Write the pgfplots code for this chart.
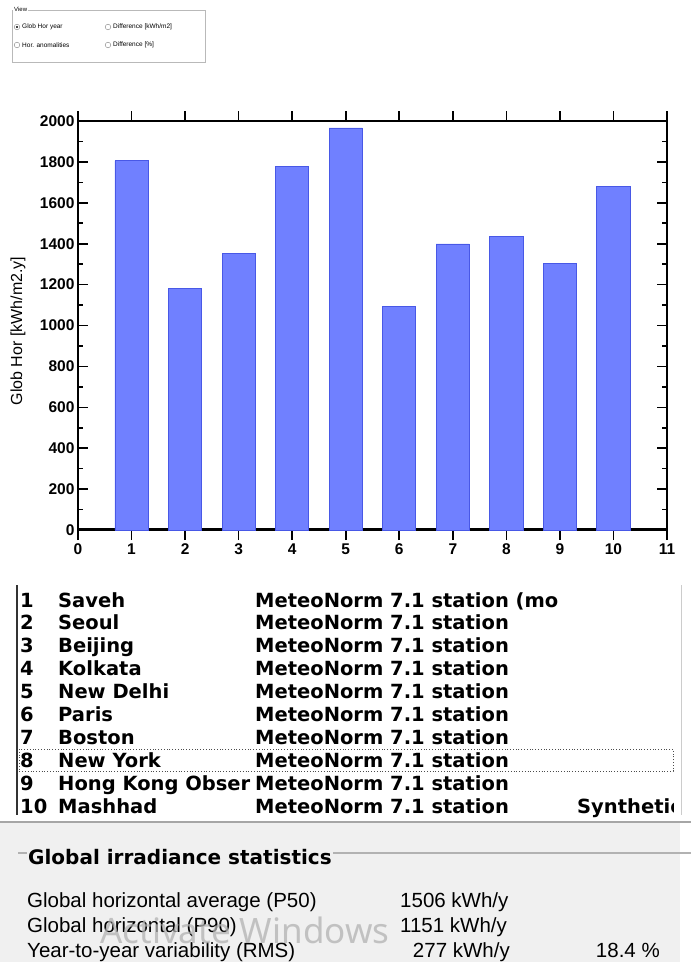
\documentclass[border=0pt]{standalone}
\usepackage{pgfplots}
\pgfplotsset{compat=1.18}
\usepackage{fontspec}
\setmainfont{Liberation Sans}
\newfontfamily\listfont{DejaVu Sans}
\newfontfamily\winfont{Noto Sans}
\definecolor{barfill}{RGB}{112,128,255}
\definecolor{baredge}{RGB}{72,88,230}
\definecolor{panelgray}{RGB}{240,240,240}

\pgfplotstableread{
x y
1 1805
2 1180
3 1354
4 1776
5 1966
6 1093
7 1399
8 1435
9 1305
10 1681
}\glob

\begin{document}
\begin{tikzpicture}
\useasboundingbox (0,0) rectangle (691bp,-962bp);
\fill[white] (0,0) rectangle (691bp,-962bp);
% ---- top view panel
\draw[gray!55, line width=0.8bp] (12bp,-10bp) rectangle (205bp,-62bp);
\node[anchor=west, fill=white, inner sep=1bp, font=\fontsize{6bp}{6bp}\selectfont] at (13bp,-9bp) {View};
\begin{scope}[font=\fontsize{6.5bp}{7bp}\selectfont]
\draw[gray] (17bp,-27bp) circle (2.8bp); \fill (17bp,-27bp) circle (1.2bp);
\node[anchor=west, inner sep=1bp] at (21bp,-27bp) {Glob Hor year};
\draw[gray] (17bp,-45bp) circle (2.8bp);
\node[anchor=west, inner sep=1bp] at (21bp,-45bp) {Hor. anomalities};
\draw[gray] (108bp,-27bp) circle (2.8bp);
\node[anchor=west, inner sep=1bp] at (112bp,-27bp) {Difference [kWh/m2]};
\draw[gray] (108bp,-45bp) circle (2.8bp);
\node[anchor=west, inner sep=1bp] at (112bp,-45bp) {Difference [\%]};
\end{scope}
% ---- chart
\node[rotate=90, font=\fontsize{16bp}{16bp}\selectfont] at (18bp,-331bp) {Glob Hor [kWh/m2.y]};
\begin{axis}[
  at={(78bp,-530bp)}, anchor=south west,
  scale only axis, width=589bp, height=409bp,
  xmin=0, xmax=11, ymin=0, ymax=2000,
  xtick={0,...,11}, ytick={0,200,...,2000},
  minor y tick num=1,
  tick align=inside,
  major tick length=10bp, minor tick length=5bp,
  tick style={black, line width=1.6bp},
  axis line style={black, line width=2bp},
  tick label style={font=\bfseries\fontsize{15.5bp}{15.5bp}\selectfont},
  /pgf/number format/assume math mode=true,
  /pgf/number format/1000 sep={},
  ybar, bar width=0.62,
]
\draw[black, line width=4bp] (axis cs:0,0) -- (axis cs:11,0);
\addplot[fill=barfill, draw=baredge, line width=0.8bp] table[x=x, y=y] {\glob};
\end{axis}
% ---- station list
\draw[black!80, line width=1.6bp] (17bp,-585bp) -- (17bp,-815bp);
\draw[gray!40, line width=1bp] (681bp,-585bp) -- (681bp,-815bp);
\draw[black!70, dotted, line width=0.8bp] (19bp,-749bp) rectangle (673bp,-771bp);
\begin{scope}[font=\listfont\bfseries\fontsize{19.5bp}{20bp}\selectfont, inner sep=0pt]
\foreach \n/\name [count=\i from 0] in {1/Saveh,2/Seoul,3/Beijing,4/Kolkata,5/New Delhi,6/Paris,7/Boston,8/New York,9/Hong Kong Obser,10/Mashhad}{
  \node[anchor=base west] at (20bp,{-607bp-22.9bp*\i}) {\n};
  \node[anchor=base west] at (58bp,{-607bp-22.9bp*\i}) {\name};
}
\foreach \i in {1,...,9}{
  \node[anchor=base west] at (255bp,{-607bp-22.9bp*\i}) {MeteoNorm 7.1 station};
}
\node[anchor=base west] at (255bp,-607bp) {MeteoNorm 7.1 station (mo};
\begin{scope}
\clip (560bp,-790bp) rectangle (673bp,-820bp);
\node[anchor=base west] at (577bp,{-607bp-22.9bp*9}) {Synthetic};
\end{scope}
\end{scope}
% ---- statistics panel
\fill[panelgray] (0,-822bp) rectangle (680bp,-962bp);
\draw[gray!70, line width=1.2bp] (0,-822bp) -- (691bp,-822bp);
\draw[gray!60, line width=1.2bp] (18bp,-853bp) -- (691bp,-853bp);
\node[anchor=base west, fill=panelgray, inner sep=1bp, font=\listfont\bfseries\fontsize{20bp}{20bp}\selectfont] at (27bp,-864bp) {Global irradiance statistics};
\begin{scope}[font=\fontsize{20.5bp}{21bp}\selectfont, inner sep=0pt]
\node[anchor=base west] at (27bp,-907bp) {Global horizontal average (P50)};
\node[anchor=base west] at (400bp,-907bp) {1506 kWh/y};
\node[anchor=base west] at (27bp,-932bp) {Global horizontal (P90)};
\node[anchor=base west] at (400bp,-932bp) {1151 kWh/y};
\node[anchor=base west] at (27bp,-957bp) {Year-to-year variability (RMS)};
\node[anchor=base east] at (510bp,-957bp) {277 kWh/y};
\node[anchor=base east] at (660bp,-957bp) {18.4 \%};
\end{scope}
\node[anchor=base west, inner sep=0pt, text=gray!60, opacity=0.75, font=\winfont\fontsize{35bp}{35bp}\selectfont] at (100bp,-943bp) {Activate Windows};
\end{tikzpicture}
\end{document}
